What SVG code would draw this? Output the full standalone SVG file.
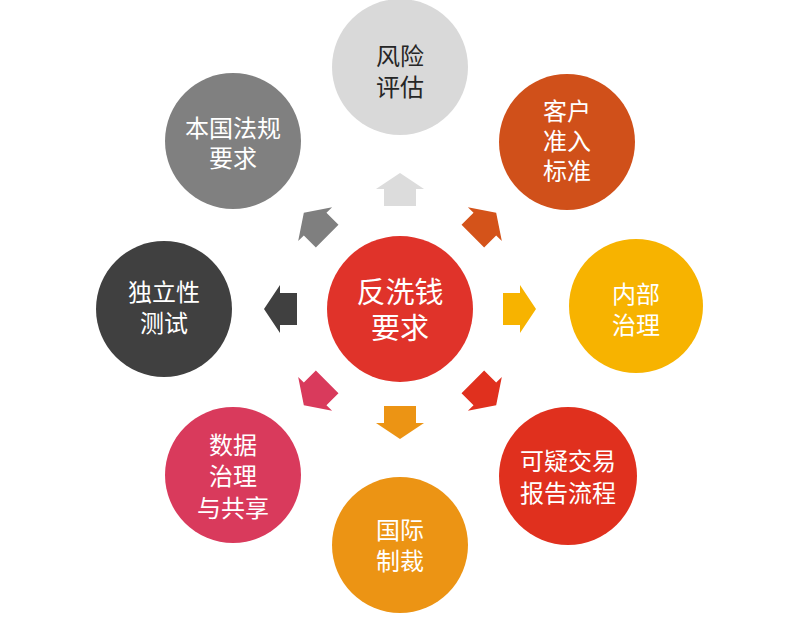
<svg xmlns="http://www.w3.org/2000/svg" width="800" height="618" viewBox="0 0 800 618">
<defs>
<style>
.lbl{font-family:"Noto Sans CJK SC","Noto Sans",sans-serif;font-size:24px;fill:#ffffff;text-anchor:middle;dominant-baseline:central}
.dark{fill:#262626}
.big{font-size:29px}
</style>
<path id="arr" d="M0,-136 L24,-120 L16,-120 L16,-103 L-16,-103 L-16,-120 L-24,-120 Z"/>
</defs>
<rect width="800" height="618" fill="#ffffff"/>
<g id="connectors">
<use href="#arr" fill="#dcdcdc" transform="translate(400,309)"/>
<use href="#arr" fill="#d4531a" transform="translate(400,309) rotate(45)"/>
<use href="#arr" fill="#f7b300" transform="translate(400,309) rotate(90)"/>
<use href="#arr" fill="#e0301e" transform="translate(400,309) rotate(135)"/>
<use href="#arr" fill="#ec9414" transform="translate(400,303) rotate(180)"/>
<use href="#arr" fill="#d93a5c" transform="translate(400,309) rotate(225)"/>
<use href="#arr" fill="#404040" transform="translate(400,309) rotate(270)"/>
<use href="#arr" fill="#7f7f7f" transform="translate(400,309) rotate(315)"/>
</g>
<g id="center">
<circle cx="400" cy="309" r="73" fill="#e0332a"/>
<text class="lbl big"><tspan x="400" y="290">反洗钱</tspan><tspan x="400" y="326">要求</tspan></text>
</g>
<g id="n-risk">
<circle cx="400" cy="67" r="68" fill="#d9d9d9"/>
<text class="lbl dark"><tspan x="400" y="54">风险</tspan><tspan x="400" y="85">评估</tspan></text>
</g>
<g id="n-customer">
<circle cx="567" cy="142" r="68" fill="#d0501a"/>
<text class="lbl"><tspan x="567" y="109">客户</tspan><tspan x="567" y="139">准入</tspan><tspan x="567" y="169">标准</tspan></text>
</g>
<g id="n-internal">
<circle cx="636" cy="306" r="67" fill="#f7b300"/>
<text class="lbl"><tspan x="636" y="292">内部</tspan><tspan x="636" y="323">治理</tspan></text>
</g>
<g id="n-suspicious">
<circle cx="568" cy="476" r="69" fill="#e0301e"/>
<text class="lbl"><tspan x="568" y="459">可疑交易</tspan><tspan x="568" y="491">报告流程</tspan></text>
</g>
<g id="n-sanctions">
<circle cx="400" cy="545" r="68" fill="#ec9414"/>
<text class="lbl"><tspan x="400" y="528">国际</tspan><tspan x="400" y="559">制裁</tspan></text>
</g>
<g id="n-data">
<circle cx="233" cy="475" r="68" fill="#d93a5c"/>
<text class="lbl"><tspan x="233" y="443">数据</tspan><tspan x="233" y="474">治理</tspan><tspan x="233" y="506">与共享</tspan></text>
</g>
<g id="n-independent">
<circle cx="164" cy="309" r="68" fill="#404040"/>
<text class="lbl"><tspan x="164" y="290">独立性</tspan><tspan x="164" y="321">测试</tspan></text>
</g>
<g id="n-domestic">
<circle cx="233" cy="141" r="68" fill="#808080"/>
<text class="lbl"><tspan x="233" y="126">本国法规</tspan><tspan x="233" y="156">要求</tspan></text>
</g>
</svg>
